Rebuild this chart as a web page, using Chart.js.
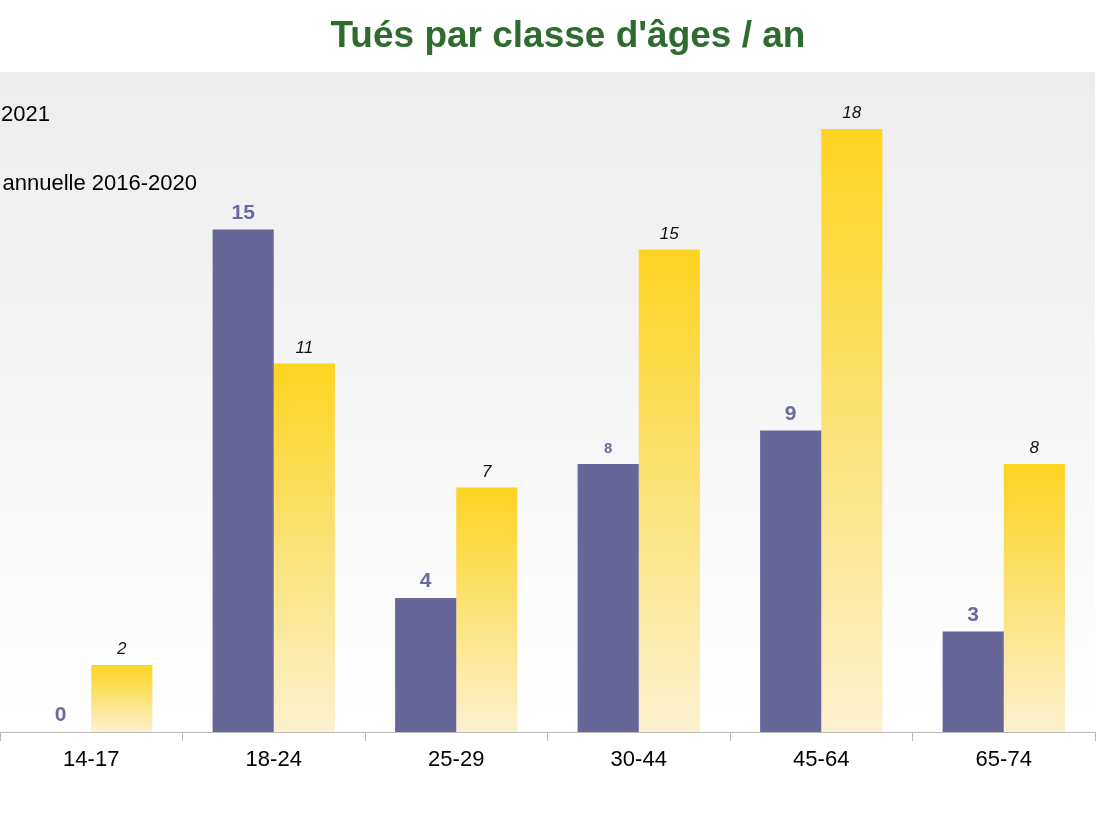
<!DOCTYPE html>
<html><head><meta charset="utf-8">
<script src="https://cdn.jsdelivr.net/npm/chart.js@4/dist/chart.umd.min.js"></script>
<style>
html,body{margin:0;padding:0;background:#fff;overflow:hidden;width:1100px;height:825px;position:relative;font-family:"Liberation Sans",Arial,sans-serif}
#wrap{position:absolute;left:-200px;top:0;width:1300px;height:825px}
#title{position:absolute;left:0;width:1136px;top:14px;text-align:center;font:bold 37px "Liberation Sans",Arial,sans-serif;color:#2f6b2f;z-index:2}
</style></head><body>
<div id="title">Tués par classe d'âges / an</div>
<div id="wrap"><canvas id="c" width="1300" height="825"></canvas></div>
<script>
const categories=["14-17","18-24","25-29","30-44","45-64","65-74"];
const seriesLabels=["Tués 2021","Moyenne annuelle 2016-2020"];
const tues2021=[0,15,4,8,9,3];
const moyenne=[2,11,7.3,14.4,18,8];
const moyenneLabels=["2","11","7","15","18","8"];

function yellowGrad(ctx){
  const chart=ctx.chart;const ca=chart.chartArea;
  if(!ca||ctx.type!=='data')return '#fdd520';
  const y=chart.scales.y;const top=y.getPixelForValue(ctx.raw);const bot=y.getPixelForValue(0);
  const g=chart.ctx.createLinearGradient(0,top,0,bot);
  g.addColorStop(0,'#fdd420');g.addColorStop(1,'#fbf1cf');return g;
}
const bgPlugin={id:'bg',beforeDraw(chart){const {ctx,chartArea:a}=chart;const g=ctx.createLinearGradient(0,a.top,0,a.bottom);
  g.addColorStop(0,'#ededed');g.addColorStop(1,'#ffffff');ctx.save();ctx.fillStyle=g;ctx.fillRect(a.left,a.top,a.right-a.left,a.bottom-a.top);ctx.restore();}};
const labelPlugin={id:'lbl',afterDatasetsDraw(chart){const ctx=chart.ctx;ctx.save();ctx.textAlign='center';ctx.textBaseline='bottom';
  chart.getDatasetMeta(0).data.forEach((b,i)=>{const v=tues2021[i];ctx.fillStyle='#6a6aa0';
    ctx.font=(v===8?'bold 15px':'bold 21px')+' "Liberation Sans",Arial';ctx.fillText(String(v),b.x,b.y-(v===8?8:6));});
  chart.getDatasetMeta(1).data.forEach((b,i)=>{ctx.fillStyle='#111';ctx.font='italic 17px "Liberation Sans",Arial';ctx.fillText(moyenneLabels[i],b.x,b.y-7);});
  // legend
  const a=chart.chartArea;ctx.textAlign='left';ctx.textBaseline='middle';ctx.font='22px "Liberation Sans",Arial';ctx.fillStyle='#000';
  ctx.fillText(seriesLabels[0],250-ctx.measureText(seriesLabels[0]).width,115);
  ctx.fillText(seriesLabels[1],397-ctx.measureText(seriesLabels[1]).width,184);
  ctx.restore();}};
new Chart(document.getElementById('c'),{type:'bar',
 data:{labels:categories,datasets:[
  {label:seriesLabels[0],data:tues2021,backgroundColor:'#666699',categoryPercentage:0.67,barPercentage:1},
  {label:seriesLabels[1],data:moyenne,backgroundColor:yellowGrad,categoryPercentage:0.67,barPercentage:1}]},
 options:{responsive:false,animation:false,devicePixelRatio:1,
  layout:{padding:{left:200,right:5,top:72,bottom:0}},
  plugins:{legend:{display:false},title:{display:false},tooltip:{enabled:false}},
  scales:{
   x:{grid:{display:true,offset:true,drawOnChartArea:false,tickLength:9,color:'#bbb'},border:{color:'#bbb'},
      ticks:{color:'#000',font:{size:22,family:'"Liberation Sans",Arial'},padding:6},
      afterFit(s){s.height=93;}},
   y:{display:false,min:0,max:19.7}}},
 plugins:[bgPlugin,labelPlugin]});
</script></body></html>
